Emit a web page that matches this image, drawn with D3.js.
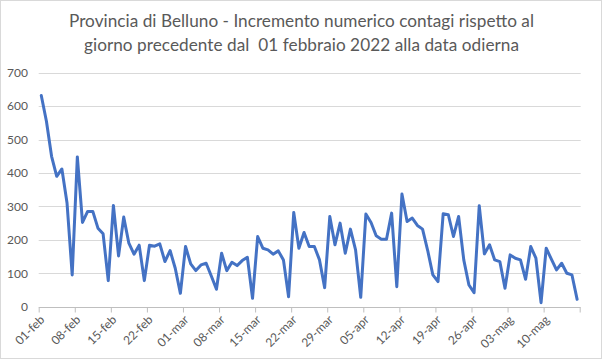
<!DOCTYPE html>
<html><head><meta charset="utf-8">
<script src="https://cdn.jsdelivr.net/npm/d3@7"></script>
<style>body{margin:0;background:#fff}svg{display:block}</style>
</head><body>
<script>
const titleLines = ["Provincia di Belluno - Incremento numerico contagi rispetto al",
                    "giorno precedente dal\u00a0\u00a001 febbraio 2022 alla data odierna"];
const startDate = new Date(2022, 1, 1);
const endDate = new Date(2022, 4, 17);
const values = [632,555,450,390,412,310,95,448,252,285,285,235,218,78,303,152,268,190,157,184,
  78,184,181,188,135,168,115,40,180,128,108,125,130,92,52,160,108,133,123,138,
  148,25,210,175,170,157,167,140,30,282,175,222,180,180,140,57,270,185,250,160,
  232,170,28,277,252,212,202,202,280,60,337,255,265,243,232,168,95,75,278,275,
  210,270,140,65,42,302,158,185,140,135,55,155,145,140,82,180,145,12,175,142,
  110,130,100,95,22];
const tickLabels = ["01-feb","08-feb","15-feb","22-feb","01-mar","08-mar","15-mar","22-mar",
  "29-mar","05-apr","12-apr","19-apr","26-apr","03-mag","10-mag"];
const yTicks = [0,100,200,300,400,500,600,700];

const W = 603, H = 360;
const svg = d3.select("body").append("svg").attr("width", W).attr("height", H);
svg.append("rect").attr("x",0.5).attr("y",0.5).attr("width",W-2).attr("height",H-2)
  .attr("fill","#fff").attr("stroke","#d9d9d9");

const font = "Lato, 'Open Sans', sans-serif";
const titleWidths = [465, 435];
svg.append("g").selectAll("text").data(titleLines).join("text")
  .attr("x", 301.5).attr("y", (d,i)=>27 + i*24)
  .attr("text-anchor","middle").attr("fill","#595959")
  .attr("textLength", (d,i)=>titleWidths[i]).attr("lengthAdjust","spacing")
  .style("font-family", font).style("font-size","17.2px").text(d=>d);

const x = d3.scaleTime().domain([startDate, endDate]).range([38.7, 579.7]);
const y = d3.scaleLinear().domain([0,700]).range([306.7, 72.7]);
const DAY = 86400000;
const dates = values.map((v,i)=> new Date(startDate.getTime() + i*DAY));
const tickDates = tickLabels.map((t,i)=> new Date(startDate.getTime() + i*7*DAY));

// gridlines
svg.append("g").selectAll("line").data(yTicks.filter(d=>d>0)).join("line")
  .attr("x1", 38.7).attr("x2", 580.7)
  .attr("y1", d=>Math.round(y(d))+0.5).attr("y2", d=>Math.round(y(d))+0.5)
  .attr("stroke","#d9d9d9").attr("stroke-width",1);

// y axis labels
const yAxis = d3.axisLeft(y).tickValues(yTicks).tickSize(0).tickPadding(0);
const gy = svg.append("g").attr("transform","translate(28,0)").call(yAxis);
gy.select(".domain").remove();
gy.selectAll("text").attr("fill","#595959").style("font-family",font).style("font-size","12px");

// x axis
const xAxis = d3.axisBottom(x).tickValues(tickDates.concat([endDate])).tickSize(5)
  .tickFormat((d,i)=> i < tickLabels.length ? tickLabels[i] : "");
const gx = svg.append("g").attr("transform", `translate(0,${Math.round(y(0))+0.5})`).call(xAxis);
gx.select(".domain").attr("stroke","#bfbfbf").attr("d", `M38.7,0H580.7`);
gx.selectAll(".tick line").attr("stroke","#bfbfbf");
gx.selectAll("text").attr("fill","#595959").style("font-family",font).style("font-size","12px")
  .attr("text-anchor","end").attr("dy",0).attr("y",0)
  .attr("transform","translate(6,13) rotate(-45)");

// line
const line = d3.line().x((d,i)=> x(new Date(dates[i].getTime() + DAY/2))).y(d=>y(d));
svg.append("path").datum(values).attr("d", line).attr("fill","none")
  .attr("stroke","#4472c4").attr("stroke-width",3)
  .attr("stroke-linejoin","round").attr("stroke-linecap","round");
</script>
</body></html>
